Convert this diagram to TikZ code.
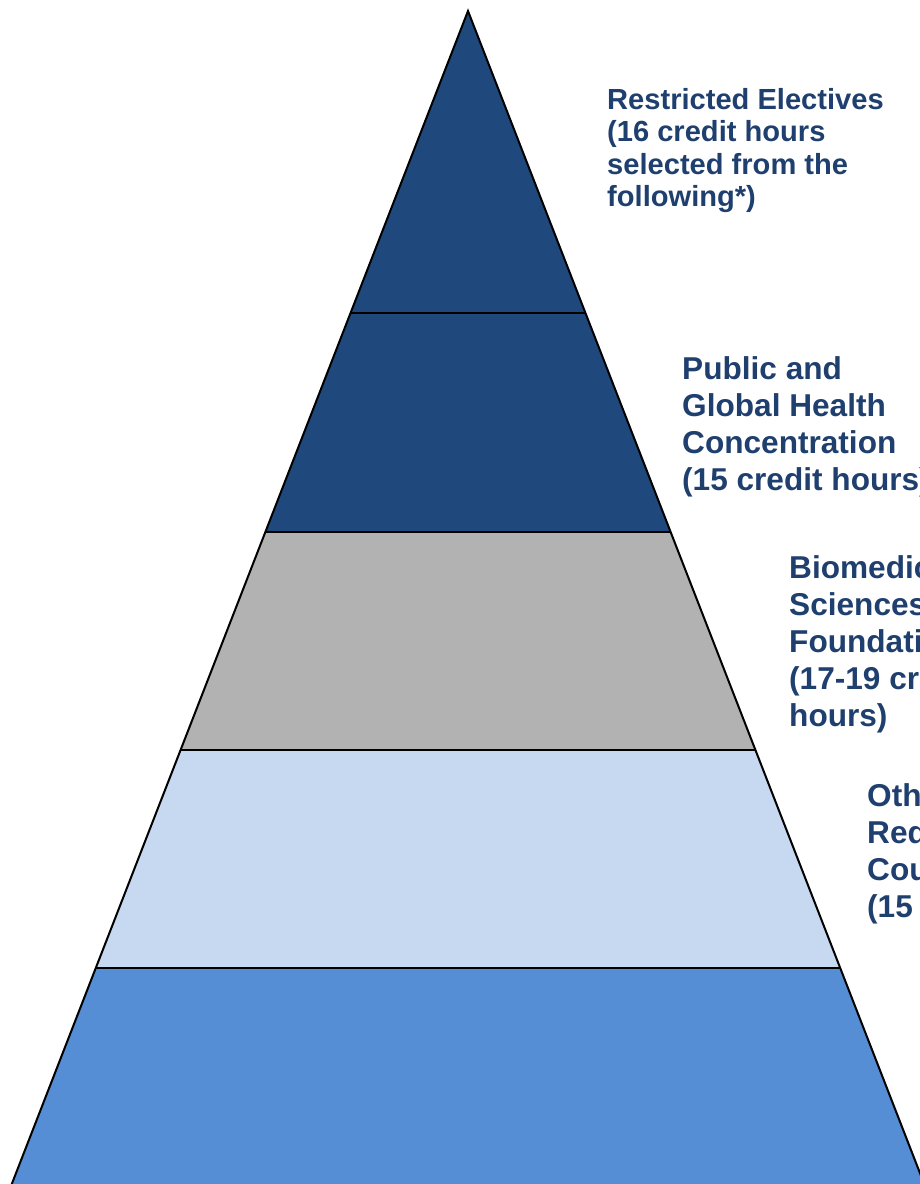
\documentclass[tikz,border=0pt]{standalone}
\usepackage{fontspec}
\setmainfont{Liberation Sans}
\definecolor{topband}{HTML}{1F497D}
\definecolor{greyband}{HTML}{B2B2B2}
\definecolor{paleband}{HTML}{C6D9F1}
\definecolor{baseband}{HTML}{558ED5}
\definecolor{labelblue}{HTML}{1F3F6E}

\begin{document}
\begin{tikzpicture}
[every node/.style={inner sep=0pt, anchor=base west, align=left, text=labelblue, font=\bfseries\fontsize{31.6}{37}\selectfont}]
\useasboundingbox (0pt, 0pt) rectangle (920pt, -1184pt);
\clip (0pt, 0pt) rectangle (920pt, -1184pt);
\begin{scope}
\clip (468pt, -11pt) -- (11pt, -1186pt) -- (925pt, -1186pt) -- cycle;
\fill [topband] (0pt, 0pt) rectangle (920pt, -532pt);
\fill [greyband] (0pt, -532pt) rectangle (920pt, -750pt);
\fill [paleband] (0pt, -750pt) rectangle (920pt, -968pt);
\fill [baseband] (0pt, -968pt) rectangle (920pt, -1190pt);
\draw [line width=2pt, color=black] (0pt, -313pt) -- (920pt, -313pt);
\draw [line width=2pt, color=black] (0pt, -532pt) -- (920pt, -532pt);
\draw [line width=2pt, color=black] (0pt, -750pt) -- (920pt, -750pt);
\draw [line width=2pt, color=black] (0pt, -968pt) -- (920pt, -968pt);
\end{scope}
\draw [line width=2pt, color=black] (468pt, -11pt) -- (11pt, -1186pt) -- (925pt, -1186pt) -- cycle;
% labels: anchored at the baseline of their last line
\node (electives) [font=\bfseries\fontsize{29.1}{32.5}\selectfont] at (607pt, -206.5pt) {Restricted Electives\\(16 credit hours\\selected from the\\following*)};
\node (concentration) at (682pt, -490pt) {Public and\\Global Health\\Concentration\\(15 credit hours)};
\node (foundation) at (789pt, -726pt) {Biomedical\\Sciences\\Foundation\\(17-19 credit\\hours)};
\node (required) at (867pt, -917pt) {Other\\Required\\Courses\\(15 credit hours)};
\end{tikzpicture}
\end{document}
